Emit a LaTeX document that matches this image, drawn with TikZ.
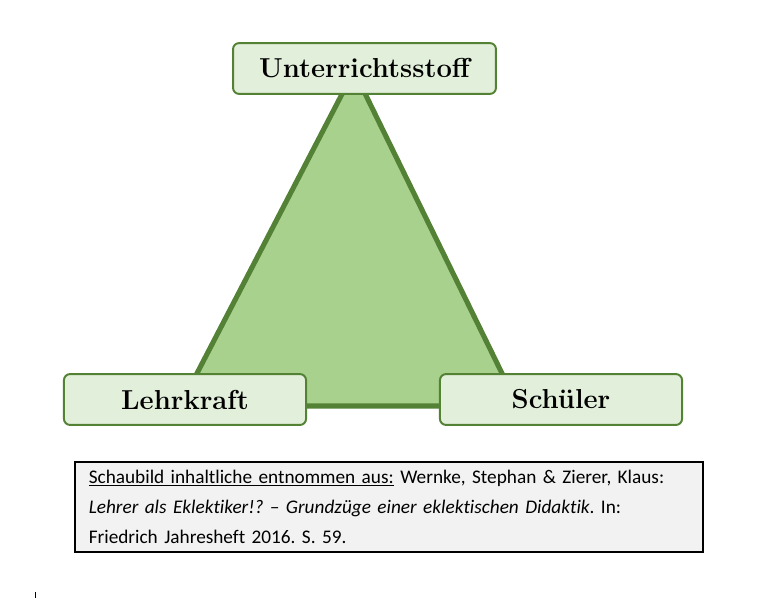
\documentclass[tikz,border=0pt]{standalone}
\usepackage{fontspec}
\newfontfamily\calibriFont[Ligatures={TeX,NoCommon}]{Carlito}
\usepackage{tikz}
\usetikzlibrary{positioning, calc}
\definecolor{triFill}{HTML}{A9D18E}
\definecolor{triLine}{HTML}{538135}
\definecolor{boxFill}{HTML}{E2EFDA}
\definecolor{boxLine}{HTML}{548235}
\definecolor{noteBg}{HTML}{F2F2F2}
\frenchspacing
\tikzset{
    cornerBox/.style={draw=boxLine, fill=boxFill, line width=1.4pt, rounded corners=0.15cm,
        minimum height=1.27cm, font=\fontsize{19.5}{22}\selectfont\bfseries},
    noteBox/.style={draw=black, fill=noteBg, line width=1.1pt, anchor=north west,
        minimum width=15.7cm, minimum height=2.25cm, inner xsep=0.35cm,
        text width=15.0cm, align=left, font=\calibriFont\fontsize{13.7}{21.3}\selectfont}
}

\begin{document}
\begin{tikzpicture}[x=0.025cm, y=-0.025cm]
        \useasboundingbox (0,0) rectangle (770,599);
        
        % Triangle
        \coordinate (top) at (354,71);
        \coordinate (left) at (180,406);
        \coordinate (right) at (518,406);
        \draw[fill=triFill, draw=triLine, line width=3.6pt, line join=miter] (top) -- (left) -- (right) -- cycle;
        
        % Corner boxes
        \node[cornerBox, minimum width=6.57cm] (stoff) at (364.5,68.5) {Unterrichtsstoff};
        \node[cornerBox, minimum width=6.05cm] (lehrer) at (185,399.5) {Lehrkraft};
        \node[cornerBox, minimum width=6.05cm] (schueler) at (561,399.5) {Schüler};
        
        % Source note
        \node[noteBox] (quelle) at (74,461) {\underline{Schaubild inhaltliche entnommen aus:} Wernke, Stephan \& Zierer, Klaus:\\
            \textit{Lehrer als Eklektiker!? – Grundzüge einer eklektischen Didaktik}. In:\\
            Friedrich Jahresheft 2016. S. 59.};
        
        % small mark
        \draw[line width=0.6pt] (35,592) -- (35,598);
    \end{tikzpicture}
\end{document}
